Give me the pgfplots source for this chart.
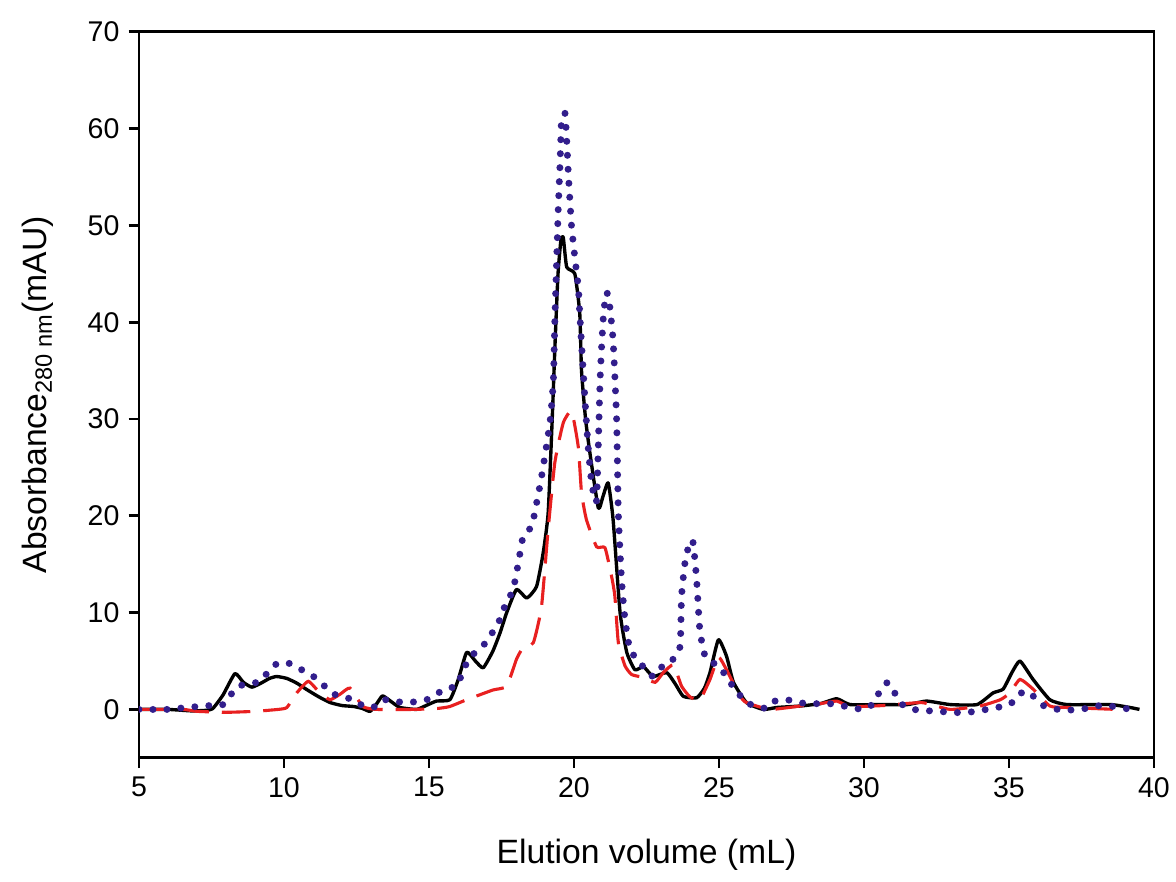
\documentclass[border=0pt]{standalone}
\usepackage{fontspec}
\setmainfont{Liberation Sans}
\usepackage{pgfplots}
\pgfplotsset{compat=1.18}
\usetikzlibrary{calc}

\definecolor{dotblue}{RGB}{50,30,140}
\definecolor{dashred}{RGB}{232,32,32}

\begin{document}
\begin{tikzpicture}
\begin{axis}[
    scale only axis,
    width=391.5pt, height=280pt,
    xmin=5, xmax=40, ymin=-5, ymax=70,
    xtick={5,10,...,40}, ytick={0,10,...,70},
    tick align=outside, tick pos=left,
    major tick length=4pt,
    axis line style={line width=1.1pt},
    every tick/.style={black, line width=1.1pt},
    /pgf/number format/assume math mode=true,
    ticklabel style={font=\fontsize{11}{13}\selectfont},
    xlabel={Elution volume (mL)},
    ylabel={Absorbance\textsubscript{280 nm}(mAU)},
    label style={font=\fontsize{13}{15}\selectfont},
    xlabel style={at={(axis description cs:0.5,-0.1336)}, anchor=center},
    ylabel style={at={(axis description cs:-0.1,0.5)}, anchor=center},
]
% solid black
\addplot[black, line width=1.3pt, line join=round, smooth, tension=0.3] coordinates {
(5,0)(6,0)(6.8,-0.15)(7.3,-0.1)(7.55,0.1)(7.9,1.5)(8.31,3.7)(8.6,2.8)(8.89,2.3)(9.2,2.7)(9.5,3.2)(9.75,3.4)(10.1,3.2)(10.45,2.7)(10.78,2.06)(11.2,1.3)(11.6,0.7)(12.0,0.4)(12.4,0.3)(12.7,0.1)(12.97,-0.2)(13.2,0.6)(13.4,1.4)(13.7,0.8)(14.0,0.2)(14.57,0)(14.9,0.4)(15.26,0.86)(15.72,1.0)(16.0,3.0)(16.3,5.9)(16.6,5.0)(16.87,4.3)(17.2,6.0)(17.45,7.9)(17.68,10.0)(18.02,12.4)(18.37,11.5)(18.71,12.7)(18.94,16.2)(19.11,20.3)(19.25,30)(19.35,38)(19.45,45)(19.55,48.5)(19.63,48.8)(19.75,45.7)(20.03,45.0)(20.2,40.9)(20.26,35)(20.4,30)(20.55,26.5)(20.84,20.8)(21.0,22)(21.18,23.4)(21.35,19.6)(21.59,10.0)(21.82,5.9)(22.1,4.1)(22.4,4.4)(22.73,3.4)(23.2,3.8)(23.5,2.6)(23.77,1.35)(24.23,1.2)(24.5,2.2)(24.69,3.8)(24.98,7.2)(25.26,5.5)(25.5,2.8)(25.95,0.7)(26.53,0)(27.0,0.2)(27.8,0.35)(28.5,0.6)(29.06,1.1)(29.52,0.5)(30.5,0.5)(31.5,0.5)(32.16,0.86)(32.97,0.5)(33.9,0.5)(34.45,1.7)(34.8,2.1)(35.1,3.8)(35.38,5.0)(35.83,3.1)(36.41,1.0)(37.0,0.5)(38.5,0.5)(39.17,0.2)(39.5,0)
};
% dashed red
\addplot[dashred, line width=1.2pt, dash pattern=on 11pt off 5pt, smooth, tension=0.3] coordinates {
(5,0)(6.5,0)(7.0,-0.2)(8.0,-0.3)(9.0,-0.2)(9.8,0)(10.1,0.2)(10.44,1.7)(10.84,2.9)(11.24,1.7)(11.59,1.0)(11.95,1.6)(12.28,2.2)(12.72,0.3)(13.2,0)(14.5,0)(15.3,0.1)(15.72,0.3)(16.3,1.0)(17.2,2.0)(17.68,2.4)(18.02,5.2)(18.25,6.4)(18.6,6.9)(18.88,10.6)(19.11,18.6)(19.34,25.5)(19.63,29.6)(19.92,30.8)(20.15,27.1)(20.26,22.4)(20.43,19.6)(20.78,16.8)(21.07,16.7)(21.3,13.7)(21.41,11.7)(21.53,6.9)(21.76,4.5)(21.99,3.6)(22.39,3.3)(22.8,2.8)(23.08,3.8)(23.43,4.6)(23.71,2.4)(24.0,1.3)(24.34,1.0)(24.69,3.1)(24.98,5.4)(25.26,4.1)(25.72,1.4)(25.95,0.7)(26.76,0)(27.8,0.35)(28.5,0.6)(29.06,0.86)(29.52,0.3)(30.67,0.4)(32.0,0.7)(32.97,0)(34.0,0.35)(34.7,1.0)(35.03,1.7)(35.38,3.1)(35.83,2.1)(36.41,0.35)(37.0,0.2)(38.7,0)
};
% dotted blue
\addplot[dotblue, line width=2.7pt, line cap=round, dash pattern=on 0pt off 5.4pt, smooth, tension=0.3] coordinates {
(5,0)(6.0,0)(6.64,0.2)(7.45,0.4)(7.9,0.5)(8.37,2.3)(8.71,2.6)(9.17,2.9)(9.63,4.5)(9.98,4.9)(10.32,4.6)(10.72,3.9)(11.07,3.3)(11.4,2.4)(11.7,1.6)(12.39,1.0)(12.73,0.35)(13.08,0.2)(13.42,1.0)(13.77,0.86)(14.23,0.7)(14.92,1.0)(15.6,2.2)(15.95,2.4)(16.3,4.8)(16.53,5.7)(16.99,7.0)(17.45,9.3)(17.56,10.3)(17.9,12.4)(18.08,15.1)(18.25,17.9)(18.54,18.9)(18.71,21.3)(18.88,24.0)(19.17,29.6)(19.29,34.0)(19.34,40.2)(19.4,46.1)(19.46,51.9)(19.52,56.4)(19.57,60.8)(19.69,61.6)(19.75,58.8)(19.8,55.7)(19.86,52.6)(19.92,49.8)(20.03,46.7)(20.15,43.6)(20.2,40.9)(20.26,37.8)(20.32,34.9)(20.38,32.0)(20.49,27.1)(20.61,23.4)(20.78,21.6)(20.9,34)(21.0,40)(21.1,43)(21.2,42.5)(21.35,38.1)(21.47,30)(21.53,20.3)(21.64,13.4)(21.76,9.3)(21.93,6.2)(22.28,4.8)(22.73,3.4)(23.14,4.8)(23.43,5.2)(23.66,6.5)(23.71,11.7)(23.83,15.2)(24.0,17.4)(24.11,17.2)(24.23,13.4)(24.34,8.2)(24.52,5.5)(24.79,4.8)(25.0,4.5)(25.43,2.6)(25.95,0.7)(26.64,0.1)(26.93,0.86)(27.33,1.0)(28.0,0.6)(28.8,0.6)(29.2,0.4)(29.97,0)(30.32,0.6)(30.55,1.9)(30.78,2.75)(30.95,2.5)(31.12,1.3)(31.36,0.4)(31.7,0)(32.5,-0.2)(33.42,-0.35)(33.83,-0.2)(34.23,0)(35.03,0.5)(35.26,1.4)(35.6,1.9)(35.9,1.2)(36.18,0.4)(36.87,-0.1)(37.67,0.1)(38.14,0.4)(38.6,0.3)(39.4,-0.1)
};
\end{axis}
\pgfresetboundingbox
\path ($(current axis.south west)+(-53.6pt,-47.8pt)$) rectangle ($(current axis.north east)+(8.5pt,12.3pt)$);
\end{tikzpicture}
\end{document}
